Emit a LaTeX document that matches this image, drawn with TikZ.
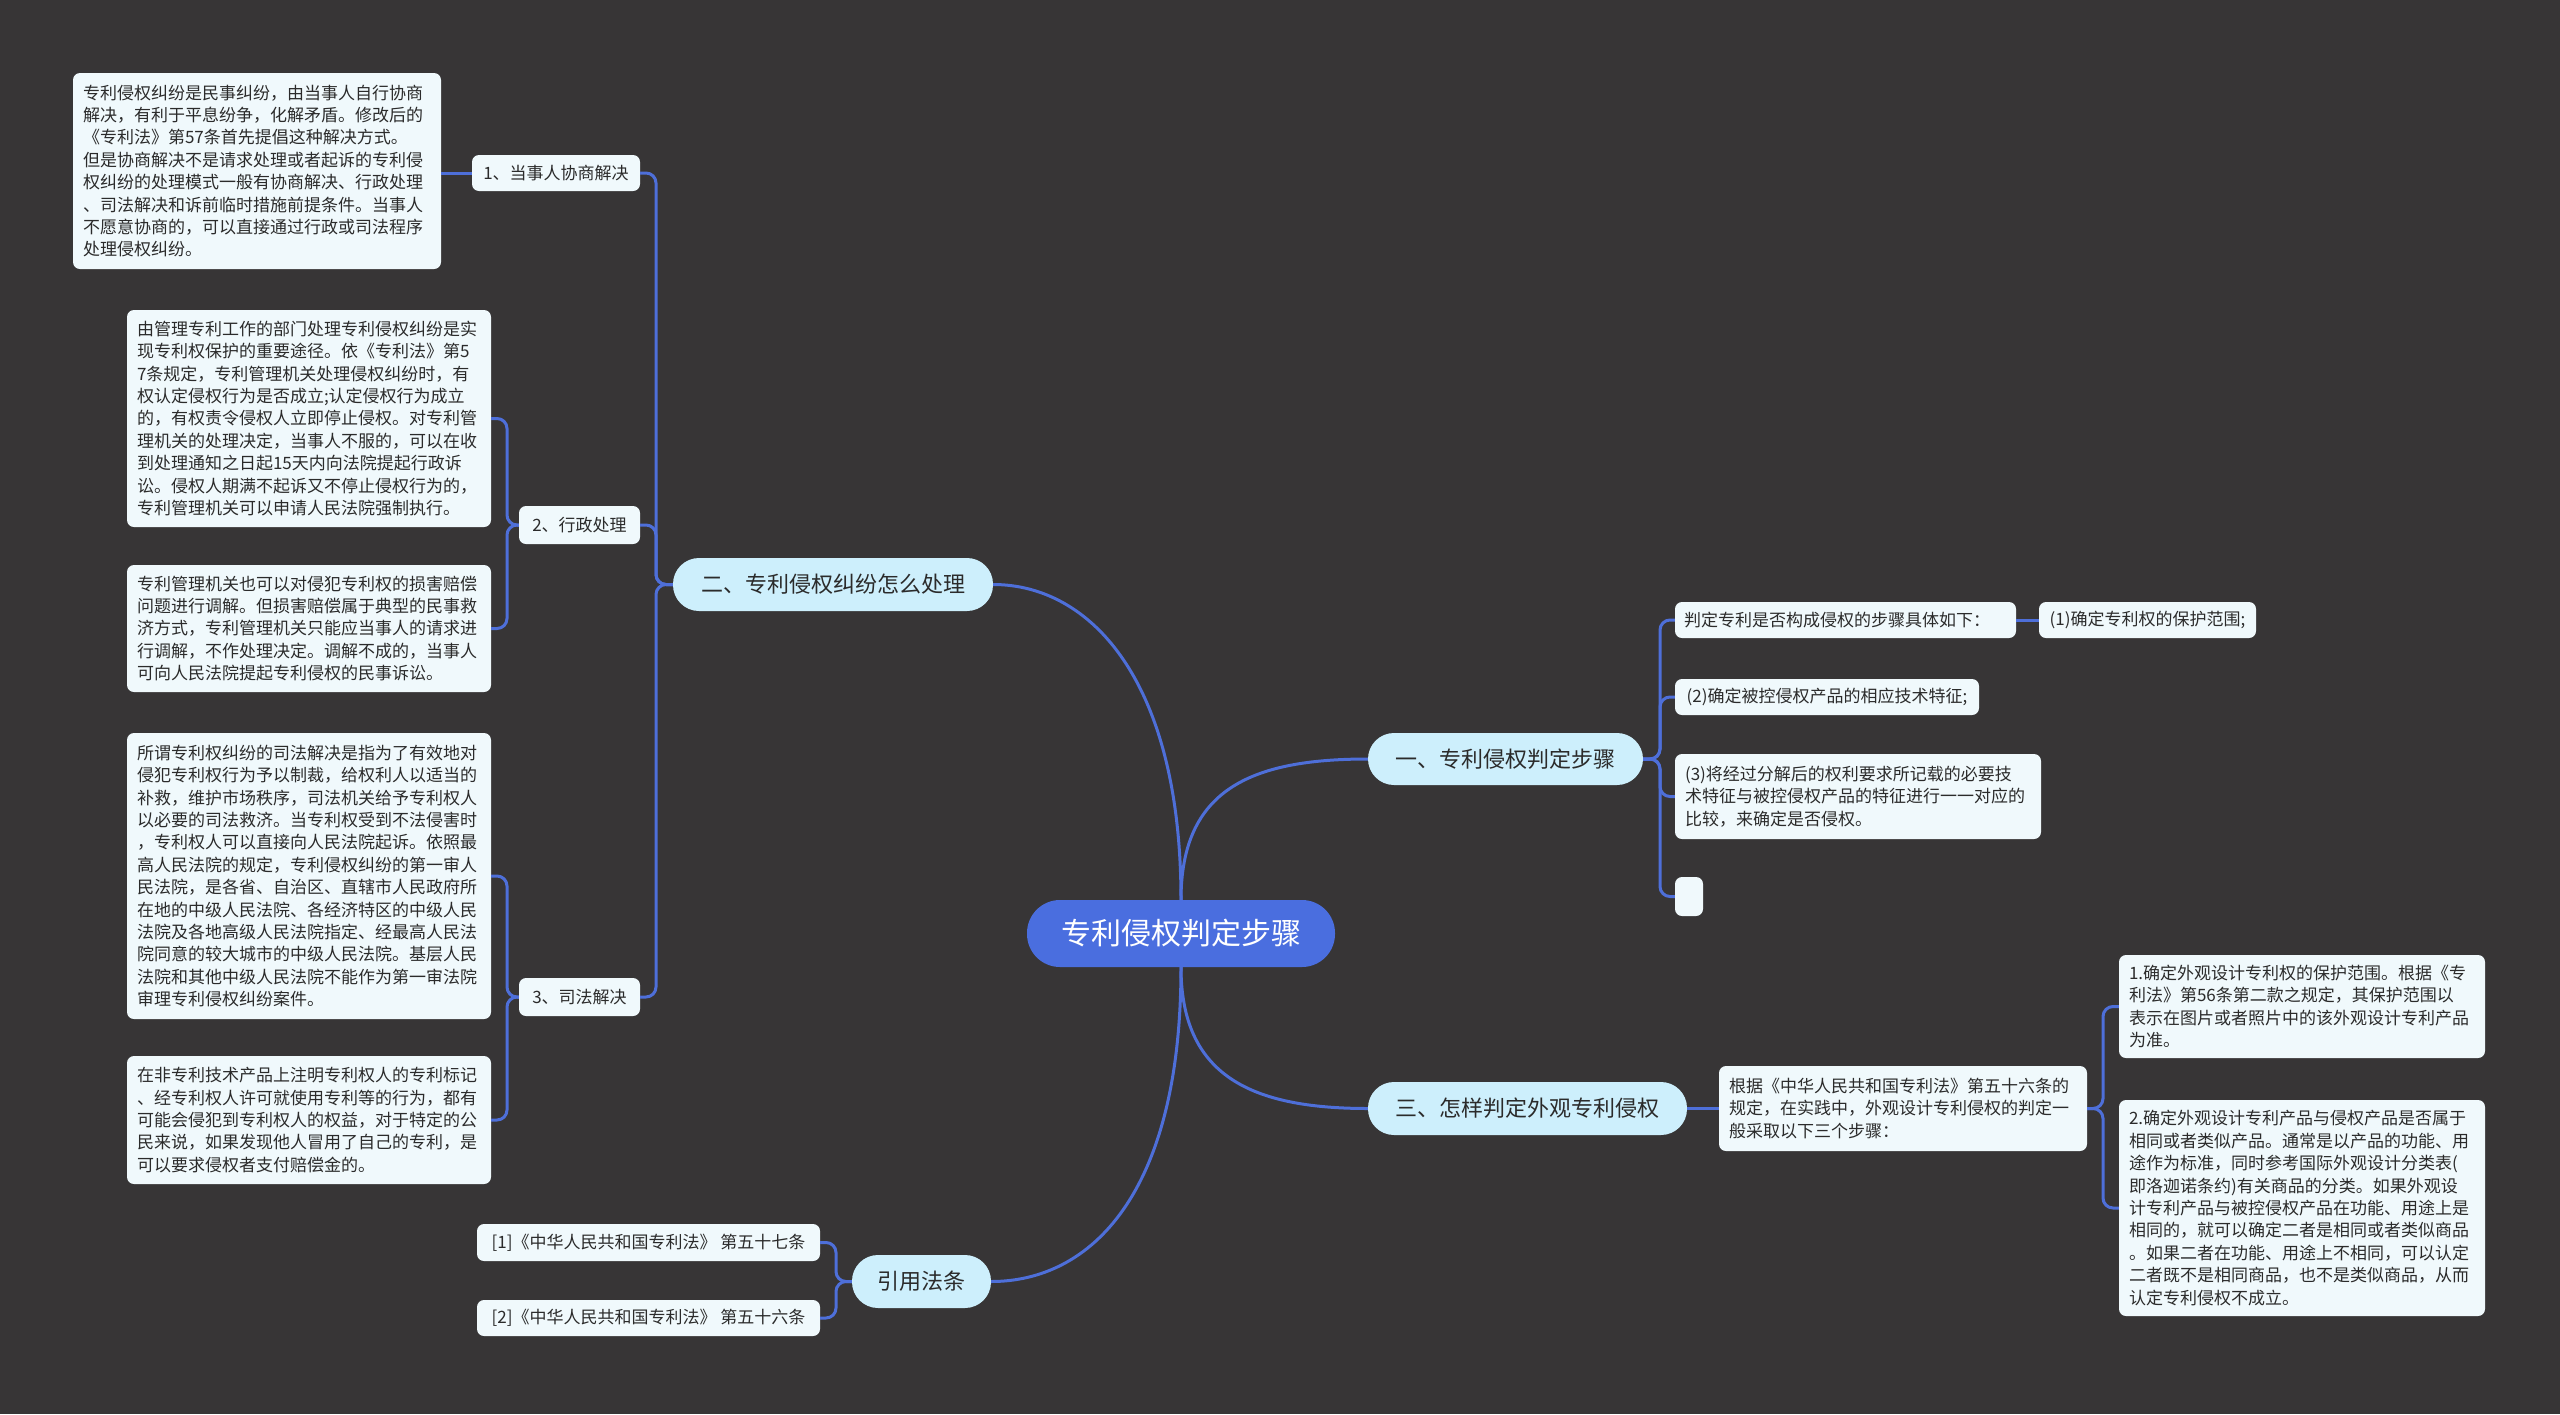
\documentclass[tikz,border=0pt]{standalone}
\usepackage{fontspec}
\setmainfont{Noto Sans CJK SC}
\usetikzlibrary{calc}
\definecolor{bg}{HTML}{373536}
\definecolor{lineblue}{HTML}{4E6FD9}
\definecolor{rootfill}{HTML}{4A6EDF}
\definecolor{brfill}{HTML}{CDEFFC}
\definecolor{leaffill}{HTML}{F0F9FC}
\definecolor{txt}{HTML}{2B2B2B}
\tikzset{
 leafbox/.style={fill=leaffill, rounded corners=7pt, inner sep=0pt, text=txt, font=\fontsize{17}{22.4}\selectfont, align=left},
 labbox/.style={fill=leaffill, rounded corners=7pt, inner sep=0pt, text=txt, font=\fontsize{17}{22.4}\selectfont, align=center},
 brbox/.style={fill=brfill, rounded corners=26pt, text=txt, font=\fontsize{22}{26}\selectfont, inner sep=0pt},
 rootbox/.style={fill=rootfill, rounded corners=33pt, text=white, font=\fontsize{30}{34}\selectfont, inner sep=0pt},
 conn/.style={draw=lineblue, line width=3pt, rounded corners=10pt},
 curveconn/.style={draw=lineblue, line width=3pt},
}
\begin{document}
\begin{tikzpicture}[x=1pt,y=-1pt]
\fill[bg] (0,0) rectangle (2560,1414);
\useasboundingbox (0,0) rectangle (2560,1414);

% root and branches
\node[rootbox, minimum width=308pt, minimum height=67pt] (root) at (1181,933.5) {专利侵权判定步骤};
\node[brbox, minimum width=275pt, minimum height=52pt] (b1) at (1505.5,759) {一、专利侵权判定步骤};
\node[brbox, minimum width=320pt, minimum height=53pt] (b2) at (833,584.5) {二、专利侵权纠纷怎么处理};
\node[brbox, minimum width=319pt, minimum height=53pt] (b3) at (1527.5,1108.5) {三、怎样判定外观专利侵权};
\node[brbox, minimum width=139pt, minimum height=53pt] (b4) at (921.5,1281.5) {引用法条};

% left side
\node[leafbox, minimum width=368pt, minimum height=196pt, text width=348pt] (L1) at (257,171) {专利侵权纠纷是民事纠纷，由当事人自行协商\\
解决，有利于平息纷争，化解矛盾。修改后的\\
《专利法》第57条首先提倡这种解决方式。\\
但是协商解决不是请求处理或者起诉的专利侵\\
权纠纷的处理模式一般有协商解决、行政处理\\
、司法解决和诉前临时措施前提条件。当事人\\
不愿意协商的，可以直接通过行政或司法程序\\
处理侵权纠纷。};
\node[labbox, minimum width=168pt, minimum height=36pt] (s1) at (556,173) {1、当事人协商解决};
\node[leafbox, minimum width=364pt, minimum height=217pt, text width=344pt] (L2) at (309,418.5) {由管理专利工作的部门处理专利侵权纠纷是实\\
现专利权保护的重要途径。依《专利法》第5\\
7条规定，专利管理机关处理侵权纠纷时，有\\
权认定侵权行为是否成立;认定侵权行为成立\\
的，有权责令侵权人立即停止侵权。对专利管\\
理机关的处理决定，当事人不服的，可以在收\\
到处理通知之日起15天内向法院提起行政诉\\
讼。侵权人期满不起诉又不停止侵权行为的，\\
专利管理机关可以申请人民法院强制执行。};
\node[labbox, minimum width=121pt, minimum height=38pt] (s2) at (579.5,525) {2、行政处理};
\node[leafbox, minimum width=364pt, minimum height=127pt, text width=344pt] (L3) at (309,628.5) {专利管理机关也可以对侵犯专利权的损害赔偿\\
问题进行调解。但损害赔偿属于典型的民事救\\
济方式，专利管理机关只能应当事人的请求进\\
行调解，不作处理决定。调解不成的，当事人\\
可向人民法院提起专利侵权的民事诉讼。};
\node[leafbox, minimum width=364pt, minimum height=286pt, text width=344pt] (L4) at (309,876) {所谓专利权纠纷的司法解决是指为了有效地对\\
侵犯专利权行为予以制裁，给权利人以适当的\\
补救，维护市场秩序，司法机关给予专利权人\\
以必要的司法救济。当专利权受到不法侵害时\\
，专利权人可以直接向人民法院起诉。依照最\\
高人民法院的规定，专利侵权纠纷的第一审人\\
民法院，是各省、自治区、直辖市人民政府所\\
在地的中级人民法院、各经济特区的中级人民\\
法院及各地高级人民法院指定、经最高人民法\\
院同意的较大城市的中级人民法院。基层人民\\
法院和其他中级人民法院不能作为第一审法院\\
审理专利侵权纠纷案件。};
\node[labbox, minimum width=121pt, minimum height=38pt] (s3) at (579.5,997) {3、司法解决};
\node[leafbox, minimum width=364pt, minimum height=128pt, text width=344pt] (L5) at (309,1120) {在非专利技术产品上注明专利权人的专利标记\\
、经专利权人许可就使用专利等的行为，都有\\
可能会侵犯到专利权人的权益，对于特定的公\\
民来说，如果发现他人冒用了自己的专利，是\\
可以要求侵权者支付赔偿金的。};
\node[labbox, minimum width=343pt, minimum height=37pt] (r1) at (648.5,1242.5) {[1]《中华人民共和国专利法》 第五十七条};
\node[labbox, minimum width=343pt, minimum height=36pt] (r2) at (648.5,1318) {[2]《中华人民共和国专利法》 第五十六条};

% right side
\node[leafbox, minimum width=341pt, minimum height=36pt, text width=323pt] (R1a) at (1845.5,620) {判定专利是否构成侵权的步骤具体如下：};
\node[labbox, minimum width=217pt, minimum height=36pt] (R1a1) at (2147.5,620) {(1)确定专利权的保护范围;};
\node[labbox, minimum width=304pt, minimum height=36pt] (R1b) at (1827,697) {(2)确定被控侵权产品的相应技术特征;};
\node[leafbox, minimum width=366pt, minimum height=85pt, text width=346pt] (R1c) at (1858,796.5) {(3)将经过分解后的权利要求所记载的必要技\\
术特征与被控侵权产品的特征进行一一对应的\\
比较，来确定是否侵权。};
\node[labbox, minimum width=28pt, minimum height=39pt] (R1d) at (1689,896.5) {};
\node[leafbox, minimum width=368pt, minimum height=85pt, text width=348pt] (R3a) at (1903,1108.5) {根据《中华人民共和国专利法》第五十六条的\\
规定，在实践中，外观设计专利侵权的判定一\\
般采取以下三个步骤：};
\node[leafbox, minimum width=366pt, minimum height=103pt, text width=346pt] (R3b) at (2302,1006.5) {1.确定外观设计专利权的保护范围。根据《专\\
利法》第56条第二款之规定，其保护范围以\\
表示在图片或者照片中的该外观设计专利产品\\
为准。};
\node[leafbox, minimum width=366pt, minimum height=216pt, text width=346pt] (R3c) at (2302,1208) {2.确定外观设计专利产品与侵权产品是否属于\\
相同或者类似产品。通常是以产品的功能、用\\
途作为标准，同时参考国际外观设计分类表(\\
即洛迦诺条约)有关商品的分类。如果外观设\\
计专利产品与被控侵权产品在功能、用途上是\\
相同的，就可以确定二者是相同或者类似商品\\
。如果二者在功能、用途上不相同，可以认定\\
二者既不是相同商品，也不是类似商品，从而\\
认定专利侵权不成立。};

% trunk coordinates
\coordinate (t2) at (656,0);
\coordinate (ts) at (507,0);
\coordinate (t4) at (836,0);
\coordinate (t1) at (1660,0);
\coordinate (t3) at (2103,0);

% root curves
\draw[curveconn] (root.north) .. controls (1181,790) and (1250,759) .. (b1.west);
\draw[curveconn] (root.north) .. controls (1181,680) and (1090,584.5) .. (b2.east);
\draw[curveconn] (root.south) .. controls (1181,1075) and (1250,1108.5) .. (b3.west);
\draw[curveconn] (root.south) .. controls (1181,1195) and (1090,1281.5) .. (b4.east);

% branch 2
\draw[conn] (b2.west) -- (b2.west -| t2) |- (s1.east);
\draw[conn] (b2.west) -- (b2.west -| t2) |- (s2.east);
\draw[conn] (b2.west) -- (b2.west -| t2) |- (s3.east);
\draw[conn] (s1.west) -- (s1.west -| L1.east);
\draw[conn] (s2.west) -- (s2.west -| ts) |- (L2.east);
\draw[conn] (s2.west) -- (s2.west -| ts) |- (L3.east);
\draw[conn] (s3.west) -- (s3.west -| ts) |- (L4.east);
\draw[conn] (s3.west) -- (s3.west -| ts) |- (L5.east);
% branch 4
\draw[conn] (b4.west) -- (b4.west -| t4) |- (r1.east);
\draw[conn] (b4.west) -- (b4.west -| t4) |- (r2.east);
% branch 1
\draw[conn] (b1.east) -- (b1.east -| t1) |- (R1a.west);
\draw[conn] (b1.east) -- (b1.east -| t1) |- (R1b.west);
\draw[conn] (b1.east) -- (b1.east -| t1) |- (R1c.west);
\draw[conn] (b1.east) -- (b1.east -| t1) |- (R1d.west);
\draw[conn] (R1a.east) -- (R1a1.west);
% branch 3
\draw[conn] (b3.east) -- (b3.east -| R3a.west);
\draw[conn] (R3a.east) -- (R3a.east -| t3) |- (R3b.west);
\draw[conn] (R3a.east) -- (R3a.east -| t3) |- (R3c.west);
\end{tikzpicture}
\end{document}
